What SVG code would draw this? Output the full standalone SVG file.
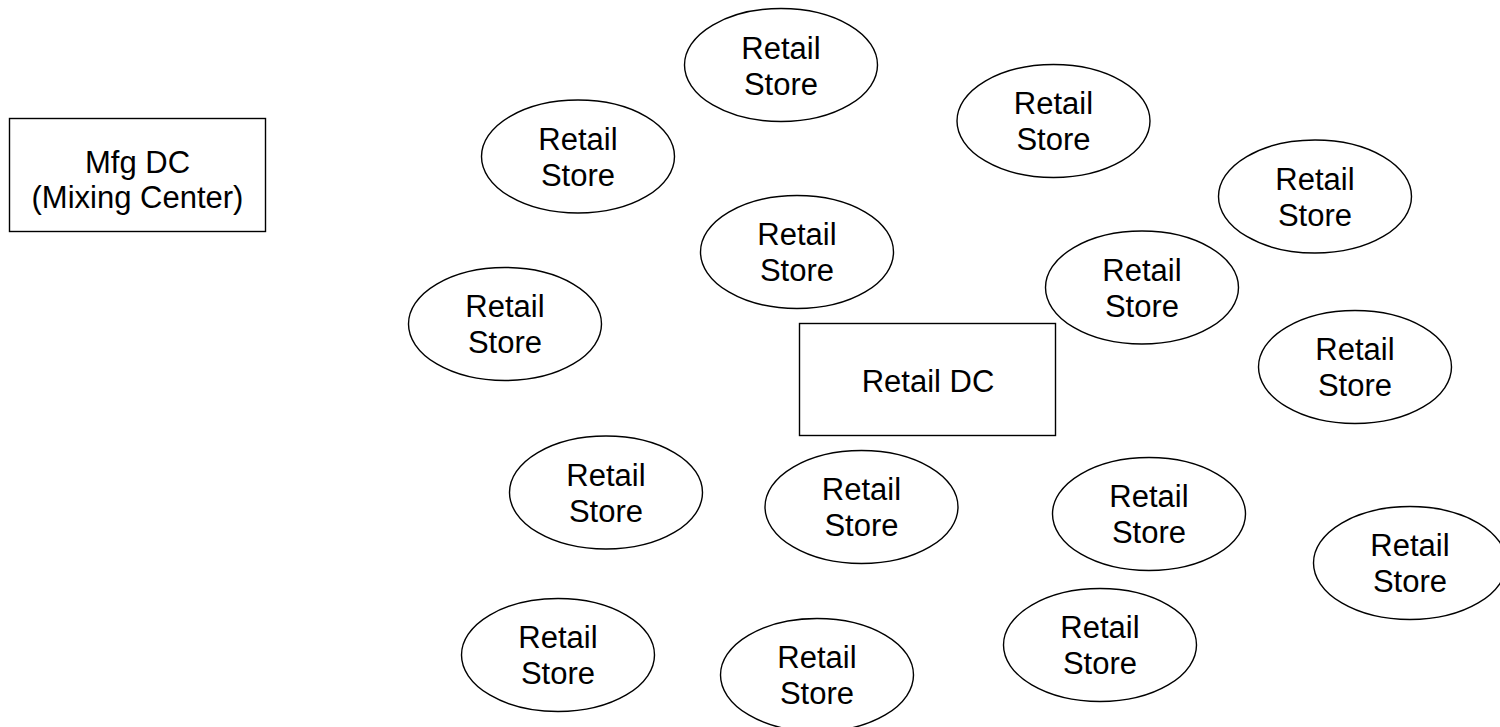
<svg xmlns="http://www.w3.org/2000/svg" width="1500" height="727" viewBox="0 0 1500 727">
<style>
.n{fill:#fff;stroke:#000;stroke-width:1.4}
.t{font-family:"Liberation Sans",Arial,sans-serif;font-size:31px;fill:#000;text-anchor:middle}
</style>
<rect width="1500" height="727" fill="#fff"/>
<g id="connectors"></g>
<g id="mfg-dc"><rect class="n" x="9.5" y="118.5" width="256" height="113"/><text class="t" x="137.5" y="173">Mfg DC</text><text class="t" x="137.5" y="208">(Mixing Center)</text></g>
<g id="retail-dc"><rect class="n" x="799.5" y="323.5" width="256" height="112"/><text class="t" x="928" y="392">Retail DC</text></g>
<g id="store1"><ellipse class="n" cx="781" cy="65" rx="96.5" ry="56.5"/><text class="t" x="781" y="59">Retail</text><text class="t" x="781" y="95">Store</text></g>
<g id="store2"><ellipse class="n" cx="1053.5" cy="121" rx="96.5" ry="56.5"/><text class="t" x="1053.5" y="114">Retail</text><text class="t" x="1053.5" y="150">Store</text></g>
<g id="store3"><ellipse class="n" cx="578" cy="156.5" rx="96.5" ry="56.5"/><text class="t" x="578" y="149.5">Retail</text><text class="t" x="578" y="185.5">Store</text></g>
<g id="store4"><ellipse class="n" cx="1315" cy="196.5" rx="96.5" ry="56.5"/><text class="t" x="1315" y="189.5">Retail</text><text class="t" x="1315" y="225.5">Store</text></g>
<g id="store5"><ellipse class="n" cx="797" cy="252" rx="96.5" ry="56.5"/><text class="t" x="797" y="245">Retail</text><text class="t" x="797" y="281">Store</text></g>
<g id="store6"><ellipse class="n" cx="1142" cy="287.5" rx="96.5" ry="56.5"/><text class="t" x="1142" y="280.5">Retail</text><text class="t" x="1142" y="316.5">Store</text></g>
<g id="store7"><ellipse class="n" cx="505" cy="324" rx="96.5" ry="56.5"/><text class="t" x="505" y="317">Retail</text><text class="t" x="505" y="353">Store</text></g>
<g id="store8"><ellipse class="n" cx="1355" cy="367" rx="96.5" ry="56.5"/><text class="t" x="1355" y="360">Retail</text><text class="t" x="1355" y="396">Store</text></g>
<g id="store9"><ellipse class="n" cx="606" cy="492.5" rx="96.5" ry="56.5"/><text class="t" x="606" y="485.5">Retail</text><text class="t" x="606" y="521.5">Store</text></g>
<g id="store10"><ellipse class="n" cx="861.5" cy="507" rx="96.5" ry="56.5"/><text class="t" x="861.5" y="500">Retail</text><text class="t" x="861.5" y="536">Store</text></g>
<g id="store11"><ellipse class="n" cx="1149" cy="514" rx="96.5" ry="56.5"/><text class="t" x="1149" y="507">Retail</text><text class="t" x="1149" y="543">Store</text></g>
<g id="store12"><ellipse class="n" cx="1410" cy="563" rx="96.5" ry="56.5"/><text class="t" x="1410" y="556">Retail</text><text class="t" x="1410" y="592">Store</text></g>
<g id="store13"><ellipse class="n" cx="558" cy="655" rx="96.5" ry="56.5"/><text class="t" x="558" y="648">Retail</text><text class="t" x="558" y="684">Store</text></g>
<g id="store14"><ellipse class="n" cx="817" cy="675" rx="96.5" ry="56.5"/><text class="t" x="817" y="668">Retail</text><text class="t" x="817" y="704">Store</text></g>
<g id="store15"><ellipse class="n" cx="1100" cy="645" rx="96.5" ry="56.5"/><text class="t" x="1100" y="638">Retail</text><text class="t" x="1100" y="674">Store</text></g>
</svg>
